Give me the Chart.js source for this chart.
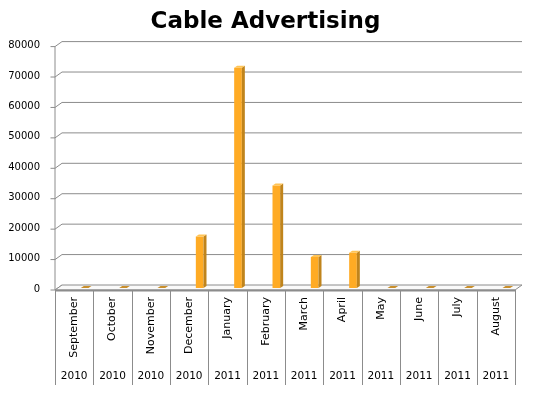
<!DOCTYPE html>
<html>
<head>
<meta charset="utf-8">
<script src="https://cdn.jsdelivr.net/npm/chart.js@4/dist/chart.umd.min.js"></script>
<style>
  body { margin: 0; background: #fff; }
</style>
</head>
<body>
<canvas id="cableChart" width="540" height="395"></canvas>
<script>
var months = ["September", "October", "November", "December", "January", "February",
              "March", "April", "May", "June", "July", "August"];
var years = ["2010", "2010", "2010", "2010", "2011", "2011",
             "2011", "2011", "2011", "2011", "2011", "2011"];
var spending = [0, 0, 0, 16900, 72400, 33700, 10200, 11600, 0, 0, 0, 0];
var yTicks = [0, 10000, 20000, 30000, 40000, 50000, 60000, 70000, 80000];

// fake 3d: the chart area is the plane the bars stand in,
// the front edge and the back wall are shifted from it
var FRONT_DX = -10.5, FRONT_DY = 2;
var DEPTH_DX = 7, DEPTH_DY = -5;
var BAR_DX = 3, BAR_DY = -2;

var wall3d = {
    id: 'wall3d',
    beforeDatasetsDraw: function (chart) {
        var ctx = chart.ctx;
        var area = chart.chartArea;
        var y = chart.scales.y;
        var x2 = chart.scales.x2;
        var fl = area.left + FRONT_DX, fr = area.right + FRONT_DX;
        var bl = fl + DEPTH_DX, br = fr + DEPTH_DX;
        var f0 = y.getPixelForValue(0) + FRONT_DY;
        var catW = (area.right - area.left) / months.length;

        ctx.save();
        ctx.strokeStyle = '#8c8c8c';
        ctx.lineWidth = 1;

        // side wall + back wall gridlines and small ticks
        yTicks.forEach(function (v) {
            var yf = y.getPixelForValue(v) + FRONT_DY;
            var yb = yf + DEPTH_DY;
            ctx.beginPath();
            ctx.moveTo(fl - 4.5, yf);
            ctx.lineTo(fl, yf);
            ctx.lineTo(bl, yb);
            if (v !== 0) ctx.lineTo(br, yb);
            ctx.stroke();
        });

        // floor
        ctx.beginPath();
        ctx.moveTo(fl, f0);
        ctx.lineTo(fr, f0);
        ctx.lineTo(br, f0 + DEPTH_DY);
        ctx.lineTo(bl, f0 + DEPTH_DY);
        ctx.closePath();
        ctx.fillStyle = '#fafafa';
        ctx.fill();
        ctx.stroke();
        ctx.lineWidth = 2;
        ctx.beginPath();
        ctx.moveTo(fl, f0 + 0.5);
        ctx.lineTo(fr, f0 + 0.5);
        ctx.stroke();
        ctx.lineWidth = 1;

        // value axis line
        ctx.beginPath();
        ctx.moveTo(fl, y.getPixelForValue(80000) + FRONT_DY);
        ctx.lineTo(fl, f0);
        ctx.stroke();

        // category dividers through both label rows
        for (var k = 0; k <= months.length; k++) {
            var xk = Math.round(fl + k * catW) + 0.5;
            ctx.beginPath();
            ctx.moveTo(xk, f0);
            ctx.lineTo(xk, x2.bottom);
            ctx.stroke();
        }
        ctx.restore();
    },
    afterDatasetsDraw: function (chart) {
        var ctx = chart.ctx;
        var meta = chart.getDatasetMeta(0);
        ctx.save();
        meta.data.forEach(function (bar, i) {
            var w = bar.width;
            var l = bar.x - w / 2, r = bar.x + w / 2;
            var top = bar.y, base = bar.base;
            if (spending[i] > 0) {
                // side face
                ctx.fillStyle = '#c0841c';
                ctx.beginPath();
                ctx.moveTo(r, top);
                ctx.lineTo(r + BAR_DX, top + BAR_DY);
                ctx.lineTo(r + BAR_DX, base + BAR_DY);
                ctx.lineTo(r, base);
                ctx.closePath();
                ctx.fill();
            }
            // top face
            ctx.fillStyle = spending[i] > 0 ? '#ffc455' : '#c98f2c';
            ctx.beginPath();
            ctx.moveTo(l, top);
            ctx.lineTo(l + BAR_DX, top + BAR_DY);
            ctx.lineTo(r + BAR_DX, top + BAR_DY);
            ctx.lineTo(r, top);
            ctx.closePath();
            ctx.fill();
        });
        ctx.restore();
    },
    afterDraw: function (chart) {
        // month names, vertical, hanging from the top of the label row
        var ctx = chart.ctx;
        var x = chart.scales.x;
        ctx.save();
        ctx.fillStyle = '#000';
        ctx.font = '11px "DejaVu Sans"';
        ctx.textAlign = 'right';
        ctx.textBaseline = 'middle';
        months.forEach(function (m, i) {
            ctx.save();
            ctx.translate(x.getPixelForTick(i) + FRONT_DX, x.top + 9);
            ctx.rotate(-Math.PI / 2);
            ctx.fillText(m, 0, 0);
            ctx.restore();
        });
        ctx.restore();
    }
};

var cableCtx = document.getElementById("cableChart");

var cableData = {
    labels: months,
    datasets: [
        {
            data: spending,
            backgroundColor: "#ffab24",
            barPercentage: 0.2,
            categoryPercentage: 1.0
        }
    ]
};

var cableChart = new Chart(cableCtx, {
    type: 'bar',
    data: cableData,
    plugins: [wall3d],
    options: {
        responsive: false,
        animation: false,
        layout: {
            padding: { left: 5.5, right: 14.5, top: 0, bottom: 10 }
        },
        plugins: {
            legend: { display: false },
            tooltip: { enabled: false },
            title: {
                display: true,
                text: 'Cable Advertising',
                color: '#000',
                font: { family: 'DejaVu Sans', size: 23, weight: 'bold' },
                padding: { top: 8, bottom: 9 }
            }
        },
        scales: {
            y: {
                min: 0,
                max: 80000,
                afterFit: function (s) { s.width = 60; },
                afterBuildTicks: function (s) {
                    s.ticks = yTicks.map(function (v) { return { value: v }; });
                },
                grid: { display: false, drawTicks: false },
                border: { display: false },
                ticks: {
                    color: '#000',
                    padding: 25.5,
                    labelOffset: 1,
                    font: { family: 'DejaVu Sans', size: 10 },
                    callback: function (v) { return String(v); }
                }
            },
            x: {
                position: 'bottom',
                weight: 1,
                afterFit: function (s) { s.height = 70; },
                grid: { display: false, drawTicks: false },
                border: { display: false },
                ticks: { display: false }
            },
            x2: {
                type: 'category',
                labels: years,
                position: 'bottom',
                weight: 2,
                offset: true,
                afterFit: function (s) { s.height = 27; },
                grid: { display: false, drawTicks: false },
                border: { display: false },
                ticks: {
                    color: '#000',
                    autoSkip: false,
                    maxRotation: 0,
                    padding: 12,
                    labelOffset: FRONT_DX,
                    font: { family: 'DejaVu Sans', size: 10.5 }
                }
            }
        }
    }
});
</script>
</body>
</html>
